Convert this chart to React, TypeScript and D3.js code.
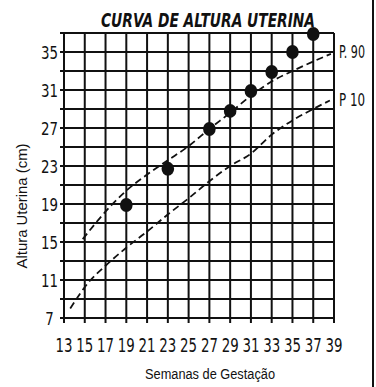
import React from "react";
import * as d3 from "d3";

const weeks = [13, 15, 17, 19, 21, 23, 25, 27, 29, 31, 33, 35, 37, 39];
const yTickLabels = [7, 11, 15, 19, 23, 27, 31, 35];
const yGrid = [7, 9, 11, 13, 15, 17, 19, 21, 23, 25, 27, 29, 31, 33, 35, 37];

const p90Weeks = [14.8, 17.5, 19, 21, 23, 25, 27, 29, 31, 33, 35, 37, 38.7];
const p90Values = [15.3, 18.8, 20.4, 22.1, 23.6, 25.1, 26.9, 28.6, 30.4, 31.9, 33.0, 34.0, 34.8];

const p10Weeks = [13.6, 15.4, 17, 19, 21, 23, 25, 27, 29, 31, 33, 35, 37, 38.6];
const p10Values = [8.0, 10.8, 12.5, 14.4, 16.1, 17.9, 19.6, 21.4, 23.0, 24.3, 26.3, 27.8, 29.0, 29.9];

const dotWeeks = [19, 23, 27, 29, 31, 33, 35, 37];
const dotValues = [18.9, 22.7, 26.9, 28.8, 30.9, 32.9, 35.0, 36.9];

const title = "CURVA DE ALTURA UTERINA";
const xTitle = "Semanas de Gestação";
const yTitle = "Altura Uterina (cm)";
const p90Label = "P. 90";
const p10Label = "P 10";

export default function App() {
  const W = 376;
  const H = 387;
  const x = d3.scaleLinear().domain([13, 39]).range([64, 334]);
  const y = d3.scaleLinear().domain([7, 37]).range([318, 33]);
  const line = d3
    .line<[number, number]>()
    .x((d) => x(d[0]))
    .y((d) => y(d[1]))
    .curve(d3.curveMonotoneX);
  const p90 = p90Weeks.map((w, i) => [w, p90Values[i]] as [number, number]);
  const p10 = p10Weeks.map((w, i) => [w, p10Values[i]] as [number, number]);
  const ink = "#111";
  const font = "'Liberation Sans', Arial, sans-serif";
  const narrow = "'Liberation Sans Narrow', 'DejaVu Sans Condensed', 'Liberation Sans', Arial, sans-serif";

  return (
    <svg
      width={W}
      height={H}
      style={{ position: "absolute", left: 0, top: 0, background: "#fff" }}
      fontFamily={font}
    >
      <rect x={0} y={0} width={W} height={H} fill="#fff" />
      {yGrid.map((v) => (
        <line key={"h" + v} x1={x(13) - 4} x2={x(39)} y1={y(v)} y2={y(v)} stroke={ink} strokeWidth={2} />
      ))}
      {weeks.map((w) => (
        <line key={"v" + w} x1={x(w)} x2={x(w)} y1={y(37)} y2={y(7) + 5} stroke={ink} strokeWidth={2} />
      ))}
      {yTickLabels.map((v) => {
        const s = String(v);
        return (
          <text
            key={"yl" + v}
            x={49.5}
            y={y(v) + 6.5}
            textAnchor="middle"
            fontFamily={narrow}
            fontSize={18}
            textLength={s.length * 8.5}
            lengthAdjust="spacingAndGlyphs"
            fill={ink}
          >
            {s}
          </text>
        );
      })}
      {weeks.map((w) => (
        <text
          key={"xl" + w}
          x={x(w)}
          y={352}
          textAnchor="middle"
          fontFamily={narrow}
          fontSize={20}
          textLength={17}
          lengthAdjust="spacingAndGlyphs"
          fill={ink}
        >
          {w}
        </text>
      ))}
      <path d={line(p90) || ""} fill="none" stroke={ink} strokeWidth={1.8} strokeDasharray="7,4" />
      <path d={line(p10) || ""} fill="none" stroke={ink} strokeWidth={1.8} strokeDasharray="7,4" />
      {dotWeeks.map((w, i) => (
        <ellipse key={"d" + w} cx={x(w)} cy={y(dotValues[i])} rx={6.3} ry={7} fill={ink} />
      ))}
      <text x={339} y={58} fontFamily={narrow} fontSize={17} textLength={26} lengthAdjust="spacingAndGlyphs" fill={ink}>
        {p90Label}
      </text>
      <text x={339} y={106} fontFamily={narrow} fontSize={17} textLength={26} lengthAdjust="spacingAndGlyphs" fill={ink}>
        {p10Label}
      </text>
      <text
        x={208}
        y={27}
        textAnchor="middle"
        fontFamily={narrow}
        fontSize={19}
        fontWeight="bold"
        fontStyle="italic"
        textLength={214}
        lengthAdjust="spacingAndGlyphs"
        fill={ink}
      >
        {title}
      </text>
      <text
        x={210}
        y={379}
        textAnchor="middle"
        fontSize={14}
        textLength={130}
        lengthAdjust="spacingAndGlyphs"
        fill={ink}
      >
        {xTitle}
      </text>
      <text
        transform="translate(27,206) rotate(-90)"
        textAnchor="middle"
        fontSize={14}
        textLength={125}
        lengthAdjust="spacingAndGlyphs"
        fill={ink}
      >
        {yTitle}
      </text>
      <line x1={373} x2={373} y1={0} y2={H} stroke={ink} strokeWidth={2} />
    </svg>
  );
}
